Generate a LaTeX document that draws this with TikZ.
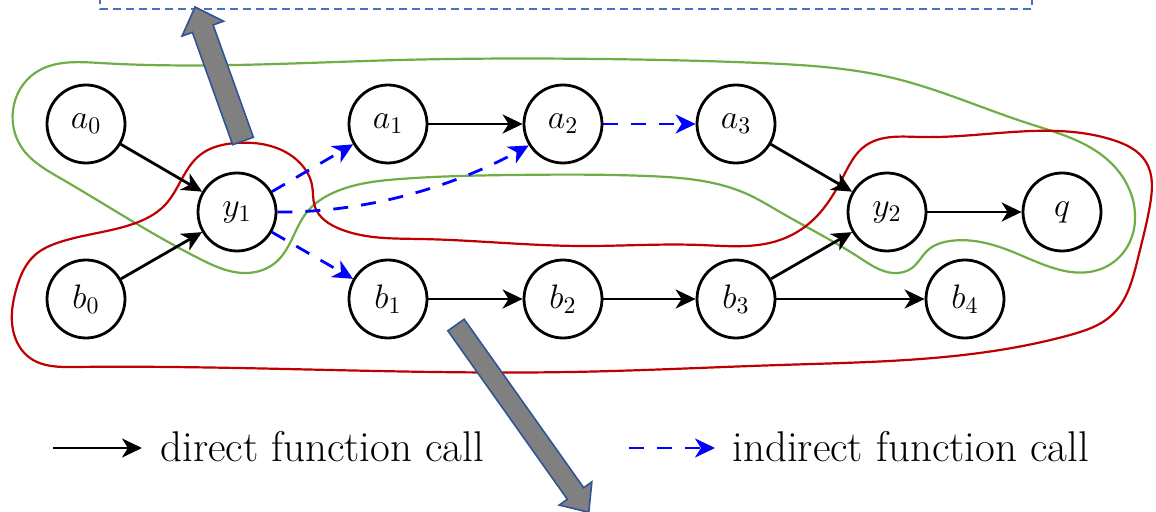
\RequirePackage{fix-cm}
\documentclass[tikz,border=0pt]{standalone}
\usepackage{tikz}
\usepackage{xcolor}
\usetikzlibrary{arrows.meta}
\usetikzlibrary{hobby}

\tikzset{
  fn/.style={draw, circle, line width=1.4pt, minimum size=39pt, inner sep=0pt, font=\fontsize{17}{20}\selectfont},
  call/.style={line width=1.4pt, -{Stealth[length=10pt,width=9.5pt,inset=3pt]}},
  icall/.style={call, color={rgb, 255:red, 0; green, 0; blue, 255 }, dash pattern=on 7.5pt off 6.5pt},
  legendtext/.style={font=\fontsize{21.5}{25}\selectfont, inner sep=0pt, anchor=base west},
  fatarrow/.style={draw={rgb, 255:red, 47; green, 85; blue, 151 }, fill={rgb, 255:red, 128; green, 128; blue, 128 }, line width=0.8pt, line join=miter},
}

\begin{document}
\begin{tikzpicture}[x=0.5pt,y=0.5pt,yscale=-1,xscale=1]
\useasboundingbox (0,0) rectangle (1156,512);
\clip (0,0) rectangle (1156,512);

%Shape: Rectangle
\draw [color={rgb, 255:red, 68; green, 114; blue, 196 }, line width=0.75pt, dash pattern=on 4pt off 2.5pt] (100,-30) rectangle (1032,9);

%Curve Lines (green region)
\draw [color={rgb, 255:red, 112; green, 173; blue, 71 }, line width=1.1pt] plot [closed hobby] coordinates {
  (100,63) (400,60) (600,59) (760,63) (893,78) (1027,123) (1110,162) (1134,205) (1123,253) (1098,270) (1013,252) (950,241) (928,250) (912,268) (893,273) (860,258) (780,212) (747,194) (647,176) (513,175) (400,179) (335,192) (307,212) (290,243) (275,263) (247,273) (200,259) (60,178) (22,148) (13,110) (35,73)};

%Curve Lines (red region)
\draw [color={rgb, 255:red, 192; green, 0; blue, 0 }, line width=1.1pt] plot [closed hobby] coordinates {
  (236,143) (300,163) (312,185) (315,207) (340,229) (420,239) (580,246) (700,245) (780,240) (813,220) (843,177) (865,146) (920,137) (1113,140) (1146,162) (1150,205) (1138,258) (1112,315) (1070,335) (780,365) (570,372) (75,367) (30,358) (13,330) (16,290) (35,255) (60,242) (130,225) (165,205) (200,155)};

%Shape: Arrow (up)
\draw [fatarrow] (253.36,137.29) -- (213.11,24.96) -- (223.47,21.26) -- (195,7) -- (182.03,36.08) -- (192.39,32.38) -- (232.64,144.71) -- cycle;
%Shape: Arrow (down)
\draw [fatarrow] (464.16,319.22) -- (583.66,487.72) -- (591.82,481.94) -- (588.8,512.3) -- (559.18,505.06) -- (567.34,499.28) -- (447.84,330.78) -- cycle;

% Function nodes
\node [fn] (a0) at (86,124) {$a_0$};
\node [fn] (y1) at (237,212) {$y_1$};
\node [fn] (b0) at (86,299) {$b_0$};
\node [fn] (a1) at (388,124) {$a_1$};
\node [fn] (a2) at (563,124) {$a_2$};
\node [fn] (a3) at (736,124) {$a_3$};
\node [fn] (y2) at (887,212) {$y_2$};
\node [fn] (q) at (1062,212) {$q$};
\node [fn] (b1) at (388,299) {$b_1$};
\node [fn] (b2) at (563,299) {$b_2$};
\node [fn] (b3) at (736,299) {$b_3$};
\node [fn] (b4) at (965,299) {$b_4$};

%Straight Lines
\draw [call] (a0) -- (y1);
\draw [call] (b0) -- (y1);
\draw [call] (a1) -- (a2);
\draw [call] (a3) -- (y2);
\draw [call] (b3) -- (y2);
\draw [call] (y2) -- (q);
\draw [call] (b1) -- (b2);
\draw [call] (b2) -- (b3);
\draw [call] (b3) -- (b4);
\draw [icall] (y1) -- (a1);
\draw [icall] (y1) -- (b1);
\draw [icall] (a2) -- (a3);
%Curve Lines
\draw [icall] (y1.east) .. controls (380,213) and (470,178) .. (a2.212);

% Legend
\coordinate (l1s) at (53,448);
\coordinate (l1e) at (142,448);
\coordinate (l2s) at (629,448);
\coordinate (l2e) at (715,448);
\draw [call] (l1s) -- (l1e);
\draw [icall] (l2s) -- (l2e);
% Text Node
\node [legendtext] (direct) at (160,462) {direct function call};
% Text Node
\node [legendtext] (indirect) at (732,462) {indirect function call};

\end{tikzpicture}
\end{document}
